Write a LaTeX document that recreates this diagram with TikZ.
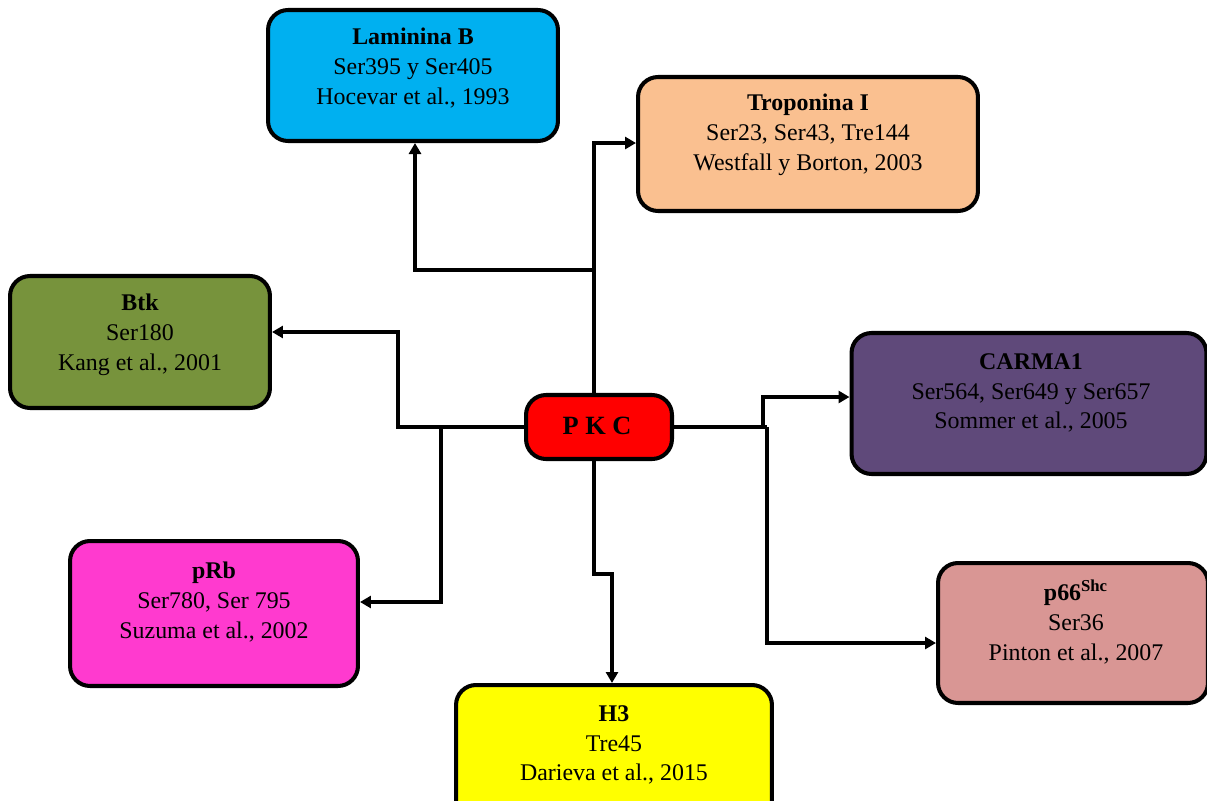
\documentclass[tikz,border=0pt]{standalone}
\usepackage{fontspec}
\setmainfont{Liberation Serif}
\usetikzlibrary{arrows.meta}
\definecolor{cLam}{HTML}{00B0F0}
\definecolor{cTro}{HTML}{FAC090}
\definecolor{cBtk}{HTML}{77933C}
\definecolor{cCar}{HTML}{5F497A}
\definecolor{cPkc}{HTML}{FF0000}
\definecolor{cPrb}{HTML}{FF3ACF}
\definecolor{cHtr}{HTML}{FFFF00}
\definecolor{cPsh}{HTML}{D99694}
\tikzset{
  boxnode/.style={draw=black, line width=2.3pt, rounded corners=0.4cm, inner sep=0pt},
  txtnode/.style={align=center, inner sep=0pt, font=\fontsize{13.6pt}{17pt}\selectfont},
  arr/.style={line width=2.3pt, -{Triangle[length=0.22cm,width=0.24cm]}},
  ln/.style={line width=2.3pt}
}
\begin{document}
\begin{tikzpicture}[x=0.02cm,y=-0.02cm]
\useasboundingbox (0,0) rectangle (1207,801);
\clip (0,0) rectangle (1207,801);
% boxes
\node[boxnode, fill=cLam, minimum width=5.8cm, minimum height=2.62cm] (lam) at (413,75.5) {};
\node[boxnode, fill=cTro, minimum width=6.8cm, minimum height=2.68cm] (tro) at (808,144) {};
\node[boxnode, fill=cBtk, minimum width=5.2cm, minimum height=2.64cm] (btk) at (140,342) {};
\node[boxnode, fill=cCar, minimum width=7.1cm, minimum height=2.82cm] (car) at (1029,403.5) {};
\node[boxnode, fill=cPkc, minimum width=2.92cm, minimum height=1.28cm] (pkc) at (599,427) {};
\node[boxnode, fill=cPrb, minimum width=5.76cm, minimum height=2.9cm] (prb) at (214,613.5) {};
\node[boxnode, fill=cHtr, minimum width=6.32cm, minimum height=2.76cm] (h3) at (614,754) {};
\node[boxnode, fill=cPsh, minimum width=5.4cm, minimum height=2.8cm] (psh) at (1073,633) {};
% texts
\node[txtnode] (lamt) at (413,68) {\textbf{Laminina B}\\Ser395 y Ser405\\Hocevar et al., 1993};
\node[txtnode] (trot) at (808,135) {\textbf{Troponina I}\\Ser23, Ser43, Tre144\\Westfall y Borton, 2003};
\node[txtnode] (btkt) at (140,335) {\textbf{Btk}\\Ser180\\Kang et al., 2001};
\node[txtnode] (cart) at (1031,393) {\textbf{CARMA1}\\Ser564, Ser649 y Ser657\\Sommer et al., 2005};
\node[txtnode, font=\fontsize{15pt}{17pt}\selectfont\bfseries] (pkct) at (597,426) {P K C};
\node[txtnode] (prbt) at (214,602) {\textbf{pRb}\\Ser780, Ser 795\\Suzuma et al., 2002};
\node[txtnode] (h3t) at (614,745) {\textbf{H3}\\Tre45\\Darieva et al., 2015};
\node[txtnode] (psht) at (1076,622) {\textbf{p66\textsuperscript{Shc}}\\Ser36\\Pinton et al., 2007};
% bend points
\coordinate (kt) at (594,143);
\coordinate (kl) at (415,270);
\coordinate (kb) at (398,332);
\coordinate (kp) at (441,602);
\coordinate (kh1) at (594,574);
\coordinate (kh2) at (612,574);
\coordinate (kc) at (763,397);
\coordinate (kq) at (767,643);
% connectors
\draw[arr] (pkc.north -| kt) -- (kt) -- (kt -| tro.west);
\draw[arr] (kl -| kt) -- (kl) -- (kl |- lam.south);
\draw[arr] (pkc.west) -| (kb) -- (kb -| btk.east);
\draw[arr] (kp |- pkc.west) -- (kp) -- (kp -| prb.east);
\draw[arr] (pkc.south -| kh1) -- (kh1) -- (kh2) -- (kh2 |- h3.north);
\draw[ln] (pkc.east) -- (kq |- pkc.east);
\draw[arr] (kc |- pkc.east) -- (kc) -- (kc -| car.west);
\draw[arr] (kq |- pkc.east) -- (kq) -- (kq -| psh.west);
\end{tikzpicture}
\end{document}
